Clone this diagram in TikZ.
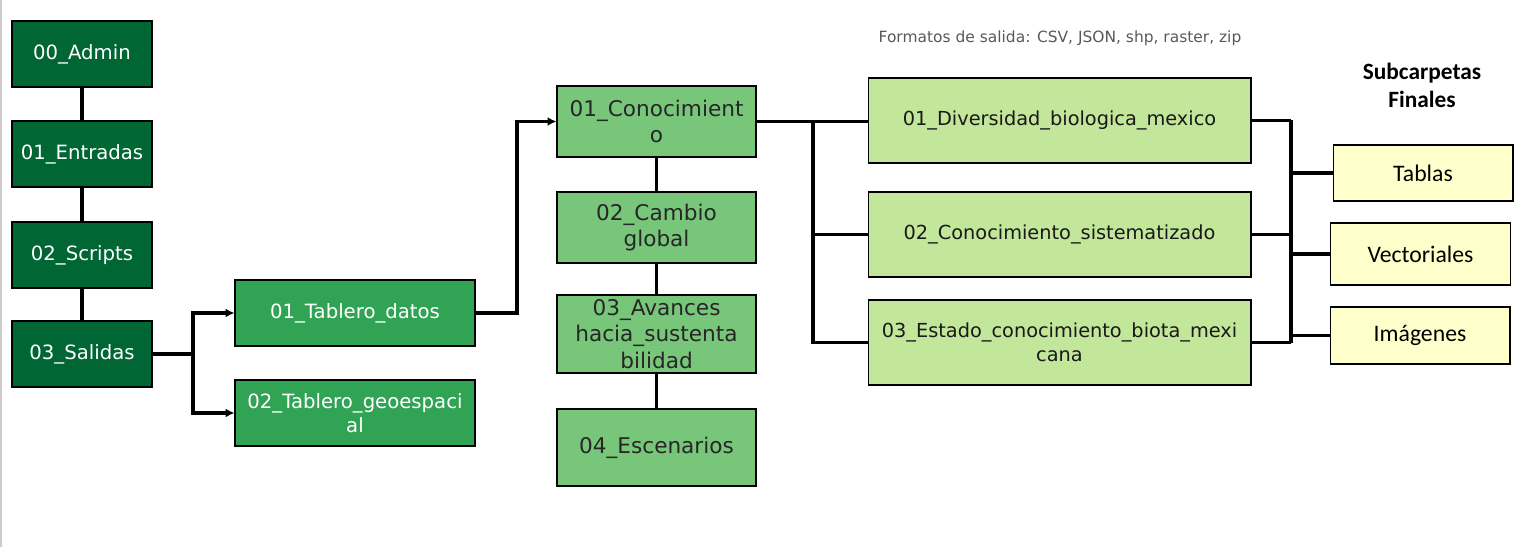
\documentclass[tikz,border=0pt]{standalone}
\usepackage{fontspec}
\setmainfont{DejaVu Sans}
\newfontfamily\calibri{Carlito}
\usetikzlibrary{arrows.meta}

\definecolor{verdeosc}{HTML}{006633}
\definecolor{verdemed}{HTML}{31A354}
\definecolor{verdecla}{HTML}{78C67A}
\definecolor{verdepal}{HTML}{C2E69A}
\definecolor{amarillo}{HTML}{FFFFCC}

\begin{document}
\begin{tikzpicture}[x=0.02cm,y=-0.02cm,
  caja/.style={draw=black,line width=0.6pt,align=center,inner sep=1pt},
  raiz/.style={caja,fill=verdeosc,text=white,minimum width=2.8cm,minimum height=1.32cm,font=\fontsize{11.2}{14}\selectfont},
  tablero/.style={caja,fill=verdemed,text=white,minimum width=4.8cm,minimum height=1.32cm,font=\fontsize{11.2}{14}\selectfont},
  tema/.style={caja,fill=verdecla,text=black!85,minimum width=3.98cm,font=\fontsize{12.3}{15}\selectfont},
  sub/.style={caja,fill=verdepal,text=black!90,minimum width=7.66cm,minimum height=1.7cm,font=\fontsize{11}{13.5}\selectfont},
  final/.style={caja,fill=amarillo,minimum width=3.6cm,font=\calibri\fontsize{13.5}{16}\selectfont},
  linea/.style={line width=2pt},
  flecha/.style={linea,-{Latex[length=5pt,width=5pt]}}]

\useasboundingbox (0,0) rectangle (1535,547);
\draw[black!20,line width=1pt] (1,0)--(1,547);

% carpetas principales
\node[raiz] (admin) at (82,54) {00\_Admin};
\node[raiz] (entradas) at (82,154) {01\_Entradas};
\node[raiz] (scripts) at (82,255) {02\_Scripts};
\node[raiz] (salidas) at (82,354) {03\_Salidas};

\draw[linea] (admin)--(entradas);
\draw[linea] (entradas)--(scripts);
\draw[linea] (scripts)--(salidas);

\node[tablero] (datos) at (355,313) {01\_Tablero\_datos};
\node[tablero] (geo) at (355,413) {02\_Tablero\_geoespaci\\al};

\coordinate (js) at (193,354);
\draw[linea] (salidas.east)--(js);
\draw[flecha] (js) |- (datos.west);
\draw[flecha] (js) |- (geo.west);

\node[tema,minimum height=1.42cm] (cono) at (656.5,121.5) {01\_Conocimient\\o};
\node[tema,minimum height=1.42cm] (cambio) at (656.5,227.5) {02\_Cambio\\global};
\node[tema,minimum height=1.56cm] (avances) at (656.5,334) {03\_Avances\\hacia\_sustenta\\bilidad};
\node[tema,minimum height=1.54cm] (esc) at (656.5,447.5) {04\_Escenarios};

\draw[linea] (cono)--(cambio);
\draw[linea] (cambio)--(avances);
\draw[linea] (avances)--(esc);

\draw[flecha] (datos.east)--(517,313) |- (cono.west);

\node[sub] (div) at (1059.5,120.5) {01\_Diversidad\_biologica\_mexico};
\node[sub] (sis) at (1059.5,234.5) {02\_Conocimiento\_sistematizado};
\node[sub] (est) at (1059.5,342.5) {03\_Estado\_conocimiento\_biota\_mexi\\cana};

\coordinate (jc) at (813,121.5);
\draw[linea] (cono.east)--(cono.east -| div.west);
\draw[linea] (jc) |- (sis.west);
\draw[linea] (jc) |- (est.west);

% subcarpetas finales
\node[font=\calibri\bfseries\fontsize{13.3}{16}\selectfont,align=center] (titulo) at (1422,85) {Subcarpetas\\Finales};
\node[final,minimum height=1.12cm] (tablas) at (1423,173) {Tablas};
\node[final,minimum height=1.24cm] (vect) at (1420.5,254) {Vectoriales};
\node[final,minimum height=1.14cm] (img) at (1420,335.5) {Imágenes};

\coordinate (jt) at (1291,0);
\draw[linea] (div.east)--(div.east -| jt);
\draw[linea] (sis.east)--(sis.east -| jt);
\draw[linea] (est.east)--(est.east -| jt);
\draw[linea] (div.east -| jt)--(est.east -| jt);
\draw[linea] (tablas.west -| jt)--(tablas.west);
\draw[linea] (vect.west -| jt)--(vect.west);
\draw[linea] (img.west -| jt)--(img.west);

\node[text=black!65,font=\fontsize{8.8}{10}\selectfont] (formatos) at (1060,38) {Formatos de salida: CSV, JSON, shp, raster, zip};

\end{tikzpicture}
\end{document}
